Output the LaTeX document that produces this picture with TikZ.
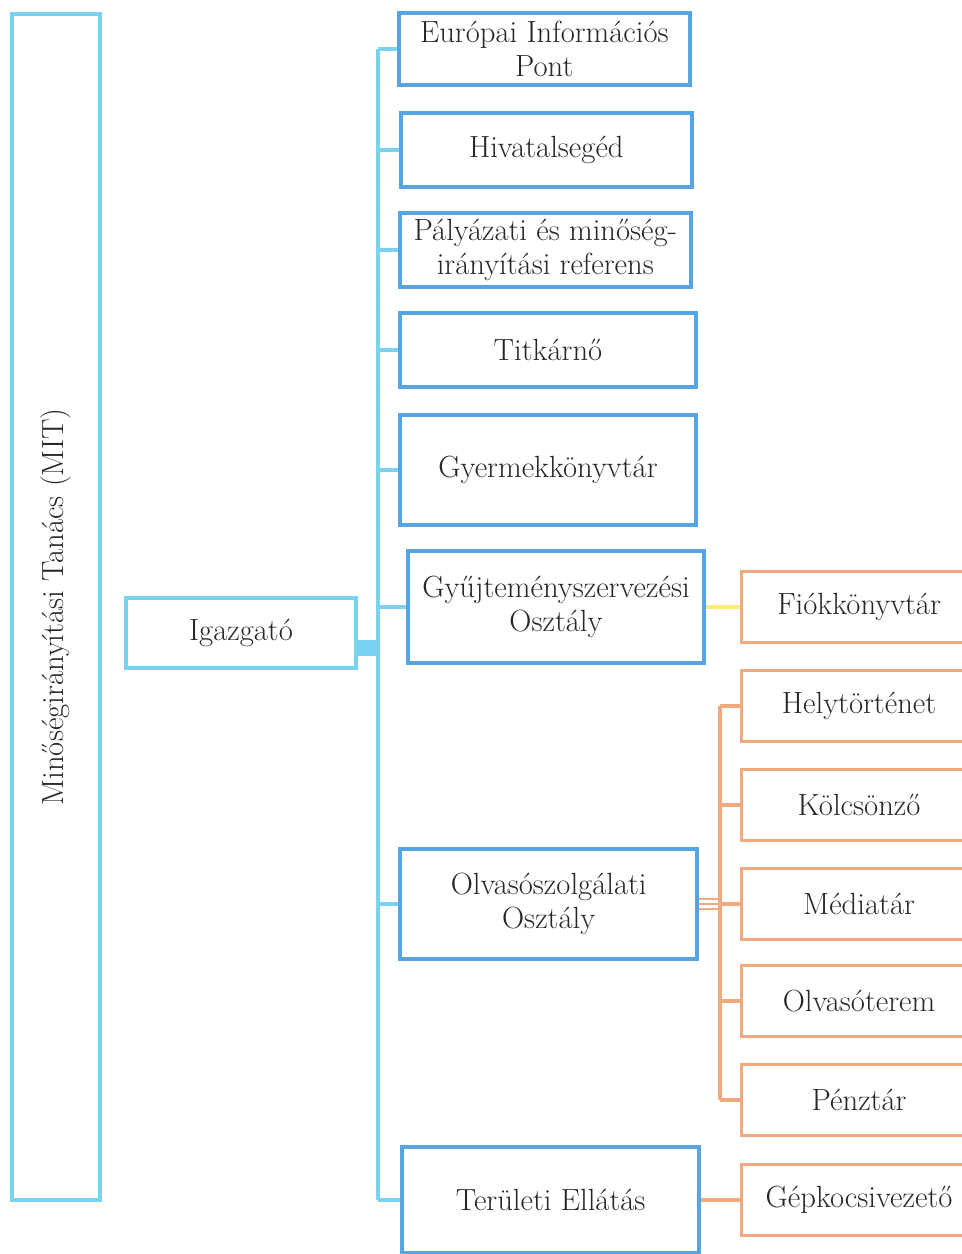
\documentclass[tikz,border=0pt]{standalone}
\usepackage{fontspec}
\definecolor{tanacskek}{RGB}{120,210,240}
\definecolor{osztalykek}{RGB}{85,165,228}
\definecolor{narancs}{RGB}{240,170,125}
\definecolor{sarga}{RGB}{250,235,125}

\begin{document}
\begin{tikzpicture}[x=0.75pt,y=-0.75pt,
every node/.style={font=\fontsize{23}{26}\selectfont,align=center,inner sep=0pt,text=black!85},
tanacs/.style={draw=tanacskek,line width=3pt},
osztaly/.style={draw=osztalykek,line width=3pt,minimum width=218pt,anchor=west},
csoport/.style={draw=narancs,line width=2.6pt,minimum width=176pt,minimum height=53pt,anchor=west},
ag/.style={tanacskek,line width=2.8pt},
narag/.style={narancs,line width=2.6pt}
]
\useasboundingbox (0,0) rectangle (962,1254);

% bal oldal
\node[tanacs,rotate=90,minimum width=889pt,minimum height=66pt] (mit) at (56,607) {Minőségirányítási Tanács (MIT)};
\node[tanacs,minimum width=172pt,minimum height=52pt] (igaz) at (241,633) {Igazgató};

% osztalyok
\node[osztaly,minimum height=54pt] (eip) at (397,49) {Európai Információs\\Pont};
\node[osztaly,minimum height=55pt] (hiv) at (399,150) {Hivatalsegéd};
\node[osztaly,minimum height=55pt] (pal) at (398,250) {Pályázati és minőség-\\irányítási referens};
\node[osztaly,minimum height=55pt,minimum width=222pt] (tit) at (398,350) {Titkárnő};
\node[osztaly,minimum height=82pt,minimum width=222pt] (gyk) at (398,470) {Gyermekkönyvtár};
\node[osztaly,minimum height=84pt,minimum width=222pt] (gyo) at (406,607) {Gyűjteményszervezési\\Osztály};
\node[osztaly,minimum height=83pt,minimum width=223pt] (olv) at (398,904) {Olvasószolgálati\\Osztály};
\node[osztaly,minimum height=79pt,minimum width=223pt] (ter) at (400,1200) {Területi Ellátás};

% csoportok
\node[csoport] (fiok) at (740,607) {Fiókkönyvtár};
\node[csoport] (hely) at (740,706) {Helytörténet};
\node[csoport] (kolcs) at (740,805) {Kölcsönző};
\node[csoport] (media) at (740,904) {Médiatár};
\node[csoport] (olvt) at (740,1001) {Olvasóterem};
\node[csoport] (penz) at (740,1100) {Pénztár};
\node[csoport] (gep) at (740,1200) {Gépkocsivezető};

% torzs vonalak
\coordinate (torzs) at (378,0);
\coordinate (nartorzs) at (720,0);
\draw[tanacskek,line width=12pt] ([yshift=-11pt]igaz.east) -- ([yshift=-11pt]igaz.east -| torzs);
\draw[ag] (eip.west -| torzs) -- (ter.west -| torzs);
\foreach \n in {eip,hiv,pal,tit,gyk,gyo,olv,ter}
  \draw[ag] (\n.west) -- (\n.west -| torzs);

\draw[sarga,line width=2.6pt] (gyo.east) -- (fiok.west);
\draw[narag] (ter.east) -- (gep.west);
\draw[narag] (hely.west -| nartorzs) -- (penz.west -| nartorzs);
\foreach \n in {hely,kolcs,media,olvt,penz}
  \draw[narag] (\n.west) -- (\n.west -| nartorzs);
\foreach \dy in {-4pt,0pt,4pt}
  \draw[narancs,line width=1.4pt] ([yshift=\dy]olv.east) -- ([yshift=\dy]olv.east -| nartorzs);
\end{tikzpicture}
\end{document}
